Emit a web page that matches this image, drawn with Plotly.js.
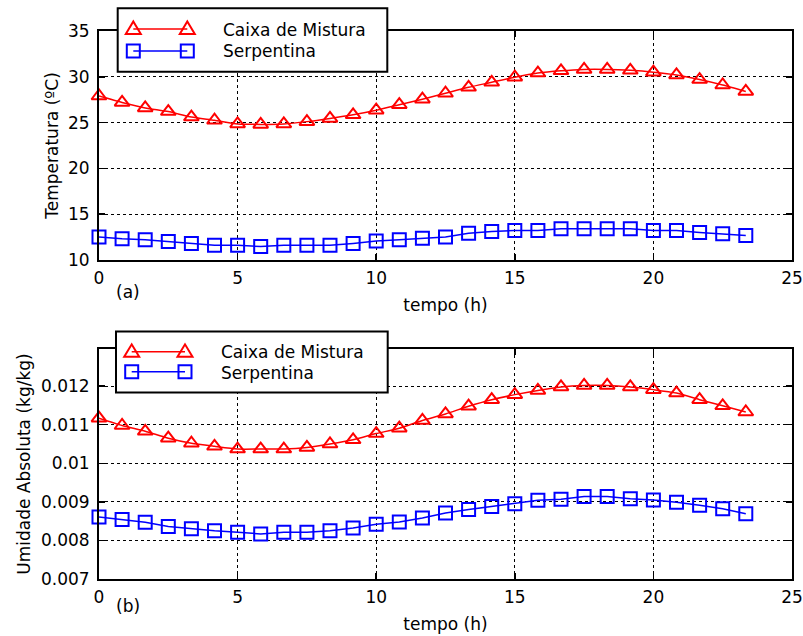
<!DOCTYPE html>
<html>
<head>
<meta charset="utf-8">
<script src="https://cdn.plot.ly/plotly-3.0.1.min.js"></script>
<style>html,body{margin:0;padding:0;background:#fff;}#chart{width:803px;height:636px;}</style>
</head>
<body>
<div id="chart"></div>
<script>
// ---- data ----
var tempo = [0, 0.833, 1.667, 2.5, 3.333, 4.167, 5, 5.833, 6.667, 7.5, 8.333, 9.167, 10, 10.833, 11.667, 12.5, 13.333, 14.167, 15, 15.833, 16.667, 17.5, 18.333, 19.167, 20, 20.833, 21.667, 22.5, 23.333];
var tempCaixa = [27.9, 27.2, 26.6, 26.2, 25.6, 25.25, 24.85, 24.8, 24.85, 25.1, 25.45, 25.85, 26.35, 26.95, 27.55, 28.2, 28.85, 29.4, 29.95, 30.4, 30.65, 30.8, 30.8, 30.7, 30.5, 30.2, 29.7, 29.1, 28.4];
var tempSerp = [12.5, 12.3, 12.2, 12.0, 11.8, 11.6, 11.6, 11.45, 11.6, 11.6, 11.6, 11.8, 12.05, 12.2, 12.35, 12.5, 12.9, 13.1, 13.2, 13.2, 13.4, 13.4, 13.4, 13.4, 13.2, 13.2, 13.0, 12.85, 12.65];
var umidCaixa = [0.01117, 0.01098, 0.01083, 0.01065, 0.01052, 0.01044, 0.01037, 0.01037, 0.01037, 0.01041, 0.0105, 0.01061, 0.01077, 0.01091, 0.01111, 0.01128, 0.01148, 0.01165, 0.01178, 0.01189, 0.01198, 0.01202, 0.01202, 0.01198, 0.01191, 0.01182, 0.01165, 0.01149, 0.01133];
var umidSerp = [0.00861, 0.00854, 0.00847, 0.00836, 0.0083, 0.00825, 0.00821, 0.00817, 0.00821, 0.00821, 0.00825, 0.00832, 0.00842, 0.00848, 0.00858, 0.00871, 0.0088, 0.00888, 0.00895, 0.00904, 0.00907, 0.00914, 0.00914, 0.00908, 0.00905, 0.00899, 0.00891, 0.00882, 0.00869];
var seriesNames = ['Caixa de Mistura', 'Serpentina'];
var xTicks = [0, 5, 10, 15, 20, 25];
var yTicksTemp = [10, 15, 20, 25, 30, 35];
var yTicksUmid = [0.007, 0.008, 0.009, 0.01, 0.011, 0.012];
var yTickTextUmid = ['0.007', '0.008', '0.009', '0.01', '0.011', '0.012'];
var panelLabels = ['(a)', '(b)'];
var xTitle = 'tempo (h)';
var yTitleTemp = 'Temperatura (ºC)';
var yTitleUmid = 'Umidade Absoluta (kg/kg)';

// ---- layout helpers ----
var W = 803, H = 636;
var M = {l: 99, r: 11, t: 31, b: 56.7};
var PW = W - M.l - M.r, PH = H - M.t - M.b;
function px(x) { return (x - M.l) / PW; }
function py(y) { return (H - M.b - y) / PH; }

var RED = '#ff0000', BLUE = '#0000ff';
var FONT = 'DejaVu Sans, Arial, sans-serif';

function trace(y, name, color, symbol, xa, ya, shape) {
  return {
    x: tempo, y: y, name: name, type: 'scatter', mode: 'lines+markers',
    xaxis: xa, yaxis: ya, showlegend: false, cliponaxis: false,
    line: {color: color, width: 1.5, shape: shape, smoothing: 0.6},
    marker: {symbol: symbol, size: 13, color: color, line: {color: color, width: 2}}
  };
}

var data = [
  trace(tempCaixa, seriesNames[0], RED, 'triangle-up-open', 'x', 'y', 'spline'),
  trace(tempSerp, seriesNames[1], BLUE, 'square-open', 'x', 'y', 'linear'),
  trace(umidCaixa, seriesNames[0], RED, 'triangle-up-open', 'x2', 'y2', 'spline'),
  trace(umidSerp, seriesNames[1], BLUE, 'square-open', 'x2', 'y2', 'linear')
];

function xaxis(anchor) {
  return {
    anchor: anchor, domain: [0, 1], range: [0, 25], tickmode: 'array', tickvals: xTicks,
    ticks: 'inside', ticklen: 6, tickwidth: 1.5, tickcolor: '#000', mirror: 'ticks',
    showline: true, linecolor: '#000', linewidth: 2,
    showgrid: true, gridcolor: '#000', griddash: 'dot', gridwidth: 1, zeroline: false,
    tickfont: {family: FONT, size: 17, color: '#000'}, ticklabelstandoff: 2,
    title: {text: xTitle, font: {family: FONT, size: 17, color: '#000'}, standoff: 12}
  };
}
function yaxis(anchor, domain, range, vals, texts, title, standoff) {
  var a = {
    anchor: anchor, domain: domain, range: range, tickmode: 'array', tickvals: vals,
    ticks: 'inside', ticklen: 6, tickwidth: 1.5, tickcolor: '#000', mirror: 'ticks',
    showline: true, linecolor: '#000', linewidth: 2,
    showgrid: true, gridcolor: '#000', griddash: 'dot', gridwidth: 1, zeroline: false,
    tickfont: {family: FONT, size: 17, color: '#000'}, ticklabelstandoff: 4,
    title: {text: title, font: {family: FONT, size: 17, color: '#000'}, standoff: standoff}
  };
  if (texts) a.ticktext = texts;
  return a;
}

// ---- custom legends (two markers per sample line) ----
var shapes = [], annotations = [];
function legendBox(x0, y0, x1, y1, rowY, mx1, mx2, textX, textY) {
  shapes.push({type: 'rect', xref: 'paper', yref: 'paper', x0: px(x0), x1: px(x1), y0: py(y0), y1: py(y1),
    fillcolor: '#fff', line: {color: '#000', width: 2}, layer: 'above'});
  shapes.push({type: 'line', xref: 'paper', yref: 'paper', x0: px(mx1), x1: px(mx2), y0: py(rowY[0]), y1: py(rowY[0]),
    line: {color: RED, width: 1.5}, layer: 'above'});
  [mx1, mx2].forEach(function (cx) {
    var cy = rowY[0];
    var p = 'M' + px(cx - 7.5) + ',' + py(cy + 5) + ' L' + px(cx + 7.5) + ',' + py(cy + 5) + ' L' + px(cx) + ',' + py(cy - 7.5) + ' Z';
    shapes.push({type: 'path', xref: 'paper', yref: 'paper', path: p, line: {color: RED, width: 2}, layer: 'above'});
  });
  shapes.push({type: 'line', xref: 'paper', yref: 'paper', x0: px(mx1), x1: px(mx2), y0: py(rowY[1]), y1: py(rowY[1]),
    line: {color: BLUE, width: 1.5}, layer: 'above'});
  [mx1, mx2].forEach(function (cx) {
    var cy = rowY[1];
    shapes.push({type: 'rect', xref: 'paper', yref: 'paper', x0: px(cx - 6.5), x1: px(cx + 6.5), y0: py(cy + 6.5), y1: py(cy - 6.5),
      line: {color: BLUE, width: 2}, layer: 'above'});
  });
  for (var i = 0; i < 2; i++) {
    annotations.push({xref: 'paper', yref: 'paper', x: px(textX), y: py(textY[i]), xanchor: 'left', yanchor: 'middle',
      text: seriesNames[i], showarrow: false, font: {family: FONT, size: 17, color: '#000'}});
  }
}
legendBox(117.7, 8.3, 387.3, 71.7, [29, 51], 133.3, 187.3, 221, [29.5, 51]);
legendBox(116, 331.7, 387.7, 392.7, [352, 372], 131.7, 185, 219, [352.5, 373]);

annotations.push({xref: 'paper', yref: 'paper', x: px(128), y: py(292.5), xanchor: 'center', yanchor: 'middle',
  text: panelLabels[0], showarrow: false, font: {family: FONT, size: 17, color: '#000'}});
annotations.push({xref: 'paper', yref: 'paper', x: px(128), y: py(606.5), xanchor: 'center', yanchor: 'middle',
  text: panelLabels[1], showarrow: false, font: {family: FONT, size: 17, color: '#000'}});

var layout = {
  width: W, height: H, margin: M, showlegend: false,
  paper_bgcolor: '#fff', plot_bgcolor: '#fff',
  font: {family: FONT, size: 17, color: '#000'},
  xaxis: xaxis('y'),
  yaxis: yaxis('x', [py(260), 1], [10, 35], yTicksTemp, null, yTitleTemp, 5),
  xaxis2: xaxis('y2'),
  yaxis2: yaxis('x2', [0, py(349.3)], [0.007, 0.01296], yTicksUmid, yTickTextUmid, yTitleUmid, 6),
  shapes: shapes, annotations: annotations
};

Plotly.newPlot('chart', data, layout, {staticPlot: true, displayModeBar: false});
</script>
</body>
</html>
